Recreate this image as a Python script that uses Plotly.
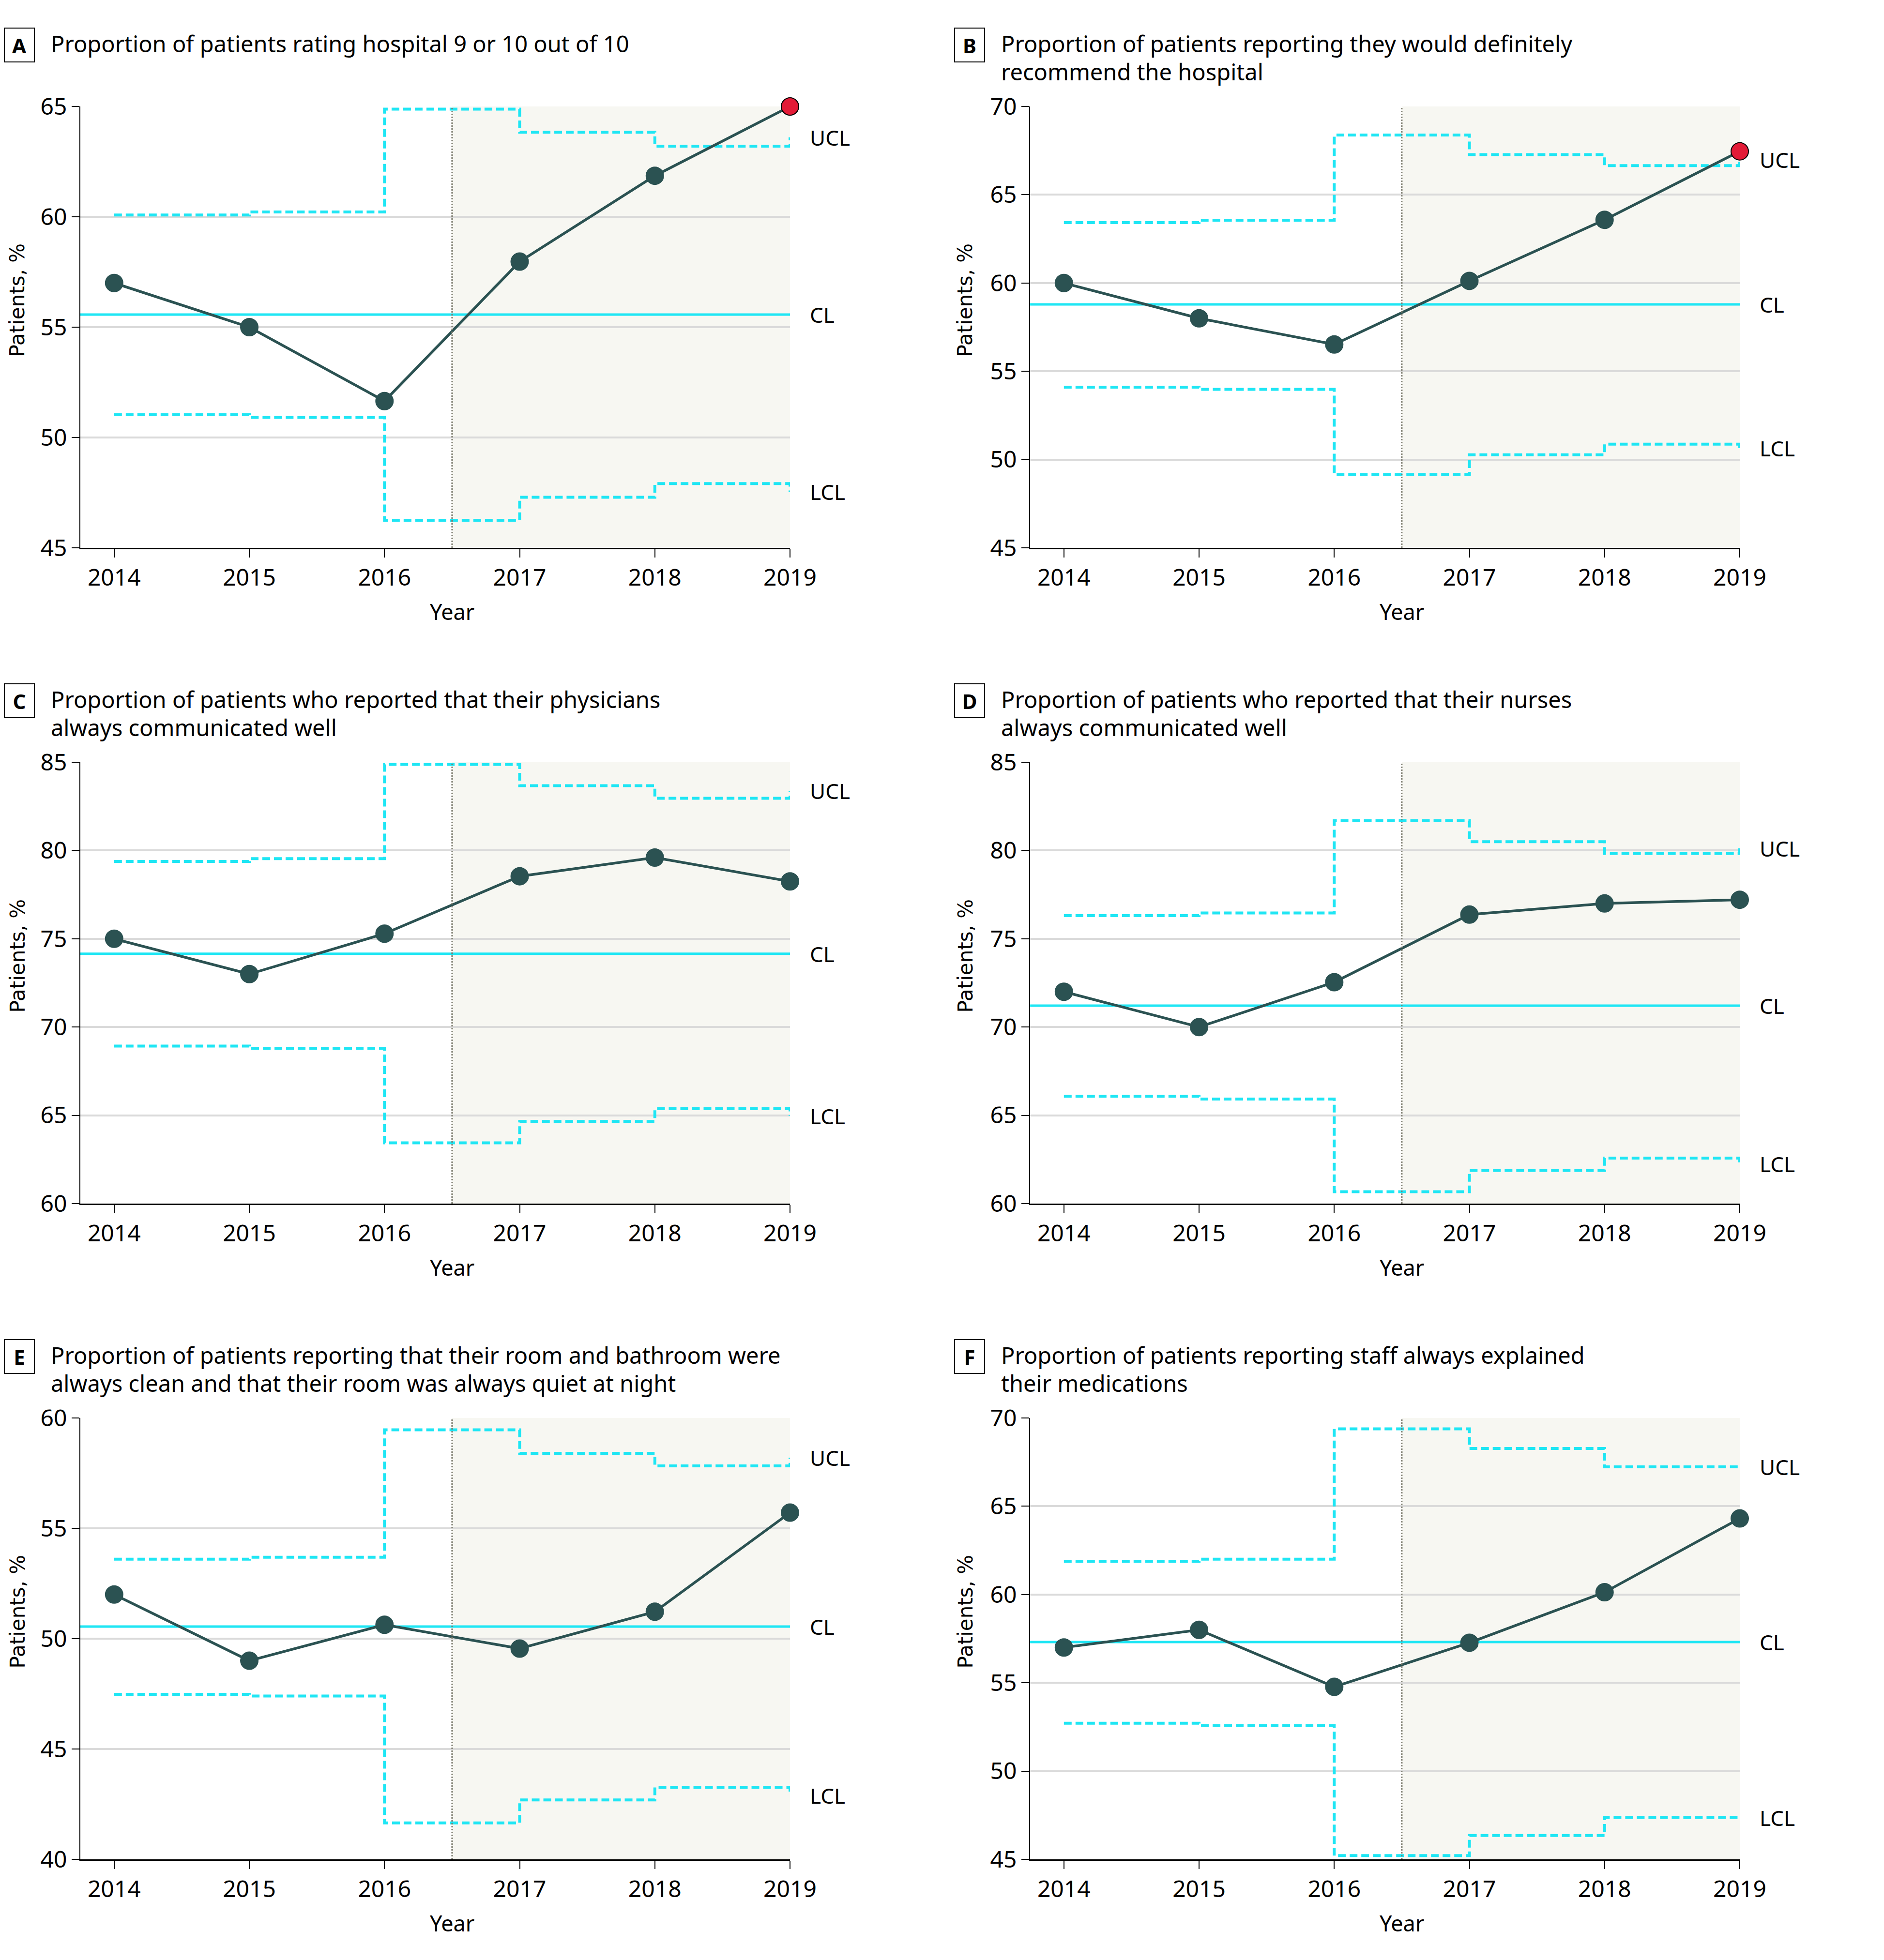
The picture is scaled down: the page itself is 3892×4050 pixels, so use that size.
import plotly.graph_objects as go

W, H = 3892, 4050
OFF = 8  # page body margin compensation (px)

years = [2014, 2015, 2016, 2017, 2018, 2019]
panel_letters = ["A", "B", "C", "D", "E", "F"]
titles = [
    ["Proportion of patients rating hospital 9 or 10 out of 10"],
    ["Proportion of patients reporting they would definitely", "recommend the hospital"],
    ["Proportion of patients who reported that their physicians", "always communicated well"],
    ["Proportion of patients who reported that their nurses", "always communicated well"],
    ["Proportion of patients reporting that their room and bathroom were", "always clean and that their room was always quiet at night"],
    ["Proportion of patients reporting staff always explained", "their medications"],
]

vals_A = [57.0, 55.0, 51.65, 57.97, 61.86, 65.0]
cl_A = 55.57
ucl_A = [60.08, 60.22, 64.88, 63.83, 63.2, 63.6]
lcl_A = [51.03, 50.91, 46.25, 47.29, 47.91, 47.54]
range_A = [45, 65]

vals_B = [60.0, 58.0, 56.52, 60.12, 63.58, 67.46]
cl_B = 58.79
ucl_B = [63.42, 63.56, 68.38, 67.27, 66.65, 66.98]
lcl_B = [54.10, 53.98, 49.15, 50.27, 50.87, 50.65]
range_B = [45, 70]

vals_C = [75.0, 73.0, 75.29, 78.54, 79.6, 78.25]
cl_C = 74.15
ucl_C = [79.38, 79.54, 84.88, 83.67, 82.96, 83.37]
lcl_C = [68.92, 68.79, 63.44, 64.65, 65.37, 64.96]
range_C = [60, 85]

vals_D = [72.0, 70.0, 72.54, 76.37, 77.0, 77.21]
cl_D = 71.21
ucl_D = [76.31, 76.46, 81.69, 80.5, 79.83, 80.13]
lcl_D = [66.08, 65.92, 60.67, 61.88, 62.58, 62.25]
range_D = [60, 85]

vals_E = [52.0, 49.0, 50.63, 49.55, 51.22, 55.71]
cl_E = 50.55
ucl_E = [53.6, 53.69, 59.46, 58.4, 57.83, 58.2]
lcl_E = [47.48, 47.4, 41.65, 42.69, 43.26, 42.9]
range_E = [40, 60]

vals_F = [57.0, 58.0, 54.77, 57.27, 60.13, 64.31]
cl_F = 57.31
ucl_F = [61.88, 62.0, 69.38, 68.27, 67.23, 67.23]
lcl_F = [52.71, 52.58, 45.21, 46.35, 47.37, 47.37]
range_F = [45, 70]

panels = [
    (vals_A, cl_A, ucl_A, lcl_A, range_A),
    (vals_B, cl_B, ucl_B, lcl_B, range_B),
    (vals_C, cl_C, ucl_C, lcl_C, range_C),
    (vals_D, cl_D, ucl_D, lcl_D, range_D),
    (vals_E, cl_E, ucl_E, lcl_E, range_E),
    (vals_F, cl_F, ucl_F, lcl_F, range_F),
]

intervention_x = 2016.5
x_range = [2013.75, 2019]

# layout geometry in pixels (target picture coordinates)
row_tops = [220, 1575, 2930]
plot_h = 912
col_lefts = [166, 2128]
plot_w = 1466
box_cx = [40, 2003]
title_x = [103, 2066]
ytitle_left = [9, 1967]


def px(x):
    return (x - OFF) / W


def py(y):
    return 1 - (y - OFF) / H


LINE_COLOR = "#2b5252"
CYAN = "#1fe6f4"
RED = "#e31b37"
SHADE = "#f7f7f2"
GRID = "#dadada"
TXT = "Noto Sans"

fig = go.Figure()
shapes = []
annotations = []

for i, (vals, cl, ucl, lcl, yr) in enumerate(panels):
    n = i + 1
    r, c = i // 2, i % 2
    top = row_tops[r]
    bottom = top + plot_h
    left = col_lefts[c]
    right = left + plot_w
    xa = "x" if n == 1 else f"x{n}"
    ya = "y" if n == 1 else f"y{n}"
    xkey = "xaxis" if n == 1 else f"xaxis{n}"
    ykey = "yaxis" if n == 1 else f"yaxis{n}"

    fig.update_layout({
        xkey: dict(
            domain=[px(left), px(right)], anchor=ya, range=x_range,
            tickmode="array", tickvals=years, ticktext=[str(y) for y in years],
            showgrid=False, zeroline=False, showline=True, linecolor="black", linewidth=3,
            ticks="outside", ticklen=17, tickwidth=2, tickcolor="black",
            tickfont=dict(family=TXT, size=48, color="black"),
        ),
        ykey: dict(
            domain=[py(bottom), py(top)], anchor=xa, range=yr,
            tick0=yr[0], dtick=5,
            showgrid=True, gridcolor=GRID, gridwidth=4, zeroline=False,
            showline=True, linecolor="black", linewidth=2,
            ticks="outside", ticklen=16, tickwidth=2, tickcolor="black",
            tickfont=dict(family=TXT, size=48, color="black"),
        ),
    })

    # shaded post-intervention region and dotted divider
    shapes.append(dict(type="rect", xref=xa, yref=f"{ya} domain", x0=intervention_x, x1=x_range[1],
                       y0=0, y1=1, fillcolor=SHADE, line=dict(width=0), layer="below"))
    shapes.append(dict(type="line", xref=xa, yref=f"{ya} domain", x0=intervention_x, x1=intervention_x,
                       y0=0, y1=1, line=dict(color="#7a7a6c", width=3, dash="dot"), layer="above"))

    # control limits
    fig.add_trace(go.Scatter(x=years, y=ucl, mode="lines", line=dict(color=CYAN, width=6, dash="16px,8px", shape="hv"),
                             xaxis=xa, yaxis=ya, showlegend=False, hoverinfo="skip"))
    fig.add_trace(go.Scatter(x=years, y=lcl, mode="lines", line=dict(color=CYAN, width=6, dash="16px,8px", shape="hv"),
                             xaxis=xa, yaxis=ya, showlegend=False, hoverinfo="skip"))
    fig.add_trace(go.Scatter(x=x_range, y=[cl, cl], mode="lines", line=dict(color=CYAN, width=5),
                             xaxis=xa, yaxis=ya, showlegend=False, hoverinfo="skip"))

    # data series (points beyond the control limits shown in red)
    out = [(v > u or v < l) for v, u, l in zip(vals, ucl, lcl)]
    colors = [RED if o else LINE_COLOR for o in out]
    lcolors = ["black" if o else LINE_COLOR for o in out]
    fig.add_trace(go.Scatter(x=years, y=vals, mode="lines+markers",
                             line=dict(color=LINE_COLOR, width=5.5),
                             marker=dict(size=36, color=colors, line=dict(color=lcolors, width=2)),
                             xaxis=xa, yaxis=ya, showlegend=False, cliponaxis=False))

    # right-side labels
    for txt, yv in (("UCL", ucl[-1]), ("CL", cl), ("LCL", lcl[-1])):
        annotations.append(dict(text=txt, xref=f"{xa} domain", x=1 + 39 / plot_w, yref=ya, y=yv,
                                xanchor="left", yanchor="middle", showarrow=False,
                                font=dict(family=TXT, size=44, color="black")))

    # panel letter box
    annotations.append(dict(text=f"<b>{panel_letters[i]}</b>", xref="paper", yref="paper",
                            x=px(box_cx[c]), y=py(top - 127), xanchor="center", yanchor="middle",
                            showarrow=False, width=60, height=68, borderwidth=2, bordercolor="black",
                            borderpad=0, font=dict(family=TXT, size=42, color="black")))
    # title lines
    for k, line in enumerate(titles[i]):
        annotations.append(dict(text=line, xref="paper", yref="paper",
                                x=px(title_x[c]), y=py(top - 130 + 58 * k),
                                xanchor="left", yanchor="middle", showarrow=False,
                                font=dict(family=TXT, size=47, color="black")))
    # axis titles
    annotations.append(dict(text="Year", xref=xa, x=intervention_x, yref="paper", y=py(bottom + 131),
                            xanchor="center", yanchor="middle", showarrow=False,
                            font=dict(family=TXT, size=45, color="black")))
    annotations.append(dict(text="Patients, %", xref="paper", x=px(ytitle_left[c]), yref="paper",
                            y=py(top + 400), xanchor="left", yanchor="middle", textangle=-90,
                            showarrow=False, font=dict(family="DejaVu Sans", size=42, color="black")))

fig.update_layout(
    width=W, height=H, margin=dict(l=0, r=0, t=0, b=0, pad=0, autoexpand=False),
    paper_bgcolor="white", plot_bgcolor="white",
    shapes=shapes, annotations=annotations, showlegend=False,
)

fig.write_html("out.html")
